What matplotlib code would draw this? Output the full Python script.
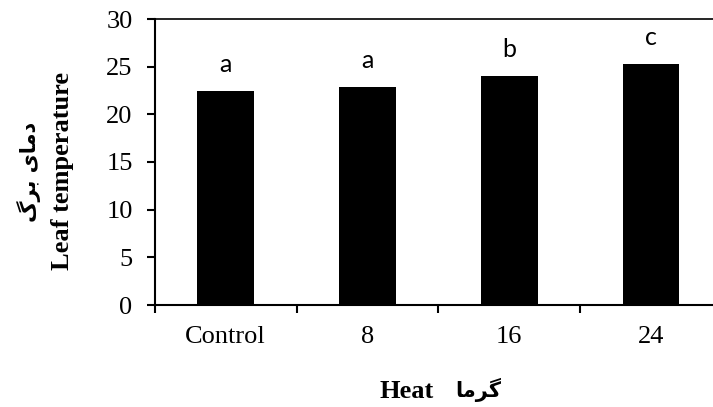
import matplotlib
matplotlib.use("Agg")
import matplotlib.pyplot as plt
import numpy as np

categories = ["Control", "8", "16", "24"]
values = [22.45, 22.87, 24.02, 25.25]
letters = ["a", "a", "b", "c"]
yticks = [0, 5, 10, 15, 20, 25, 30]

# Persian texts written with Arabic presentation forms in visual order
fa_ylabel = "\uFB92\uFEAE\uFE91 \uFBFC\uFE8E\uFEE3\uFEA9"   # دمای برگ
fa_xlabel = "\uFE8E\uFEE3\uFEAE\uFB94"                       # گرما

W, H = 713, 407
fig = plt.figure(figsize=(W / 100, H / 100), dpi=100)
ax = fig.add_axes([154.8 / W, 1 - 305 / H, (722 - 154.8) / W, (305 - 19) / H])

x = np.arange(len(categories))
ax.bar(x, values, width=0.4, color="black", zorder=3)

for xi, v, l in zip(x, values, letters):
    ax.text(xi, v + 2.0, l, ha="center", va="baseline", fontsize=18,
            family=["Lato", "DejaVu Sans"], color="black")

ax.set_xlim(-0.5, 3.5)
ax.set_ylim(0, 30)
ax.set_yticks(yticks)
ax.set_yticklabels([str(t) for t in yticks], family="Liberation Serif", fontsize=19)
ax.set_xticks(x)
ax.set_xticklabels(categories, family="Liberation Serif", fontsize=19)
ax.tick_params(axis="x", which="major", length=0, pad=15)
ax.set_xticks(np.arange(-0.5, 4.0, 1.0), minor=True)
ax.tick_params(axis="x", which="minor", length=6, width=1.5, direction="out")
ax.tick_params(axis="y", which="major", length=6, width=1.5, direction="out", pad=10)

for s in ["left", "bottom"]:
    ax.spines[s].set_linewidth(1.5)
ax.spines["top"].set_linewidth(1.2)
ax.spines["right"].set_visible(False)

# y label (two lines)
fig.text(29 / W, 1 - 172 / H, fa_ylabel, rotation=90, ha="center", va="center",
         fontsize=15, fontweight="bold", family=["DejaVu Sans"])
fig.text(62.5 / W, 1 - 171 / H, "Leaf temperature", rotation=90, ha="center", va="center",
         fontsize=19, fontweight="bold", family=["Liberation Serif"])

# x label
fig.text(407 / W, 1 - 392 / H, "Heat", ha="center", va="center",
         fontsize=19, fontweight="bold", family=["Liberation Serif"])
fig.text(478 / W, 1 - 390 / H, fa_xlabel, ha="center", va="center",
         fontsize=15, fontweight="bold", family=["DejaVu Sans"])

fig.savefig("out.png", dpi=100)
